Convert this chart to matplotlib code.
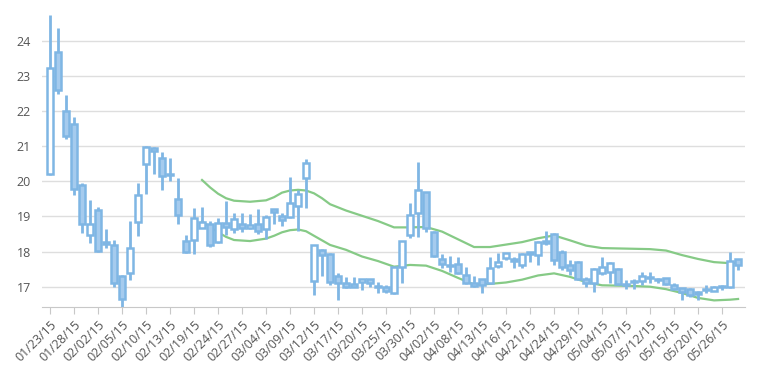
import matplotlib
matplotlib.use("Agg")
import matplotlib.pyplot as plt

# tick labels (every 3rd trading day)
tick_labels = ["01/23/15", "01/28/15", "02/02/15", "02/05/15", "02/10/15", "02/13/15",
               "02/19/15", "02/24/15", "02/27/15", "03/04/15", "03/09/15", "03/12/15",
               "03/17/15", "03/20/15", "03/25/15", "03/30/15", "04/02/15", "04/08/15",
               "04/13/15", "04/16/15", "04/21/15", "04/24/15", "04/29/15", "05/04/15",
               "05/07/15", "05/12/15", "05/15/15", "05/20/15", "05/26/15"]

opens = [20.2, 23.68, 22.0, 21.63, 19.9, 18.47, 19.18, 18.22, 18.2, 17.3,
         17.38, 18.84, 20.5, 20.95, 20.66, 20.2, 19.5, 18.3, 18.33, 18.68,
         18.79, 18.28, 18.82, 18.64, 18.78, 18.67, 18.78, 18.64, 19.2, 19.0,
         18.98, 19.31, 20.09, 17.17, 18.05, 17.93, 17.3, 17.1, 17.07, 17.12,
         17.21, 17.03, 16.98, 16.82, 17.57, 18.47, 19.1, 19.69, 18.57, 17.78,
         17.63, 17.65, 17.33, 17.1, 17.22, 17.1, 17.6, 17.81, 17.79, 17.62,
         17.92, 17.9, 18.24, 18.5, 17.98, 17.62, 17.7, 17.22, 17.1, 17.38,
         17.43, 17.5, 17.07, 17.12, 17.16, 17.27, 17.22, 17.24, 17.05, 16.95,
         16.93, 16.86, 16.92, 16.89, 16.99, 16.98, 17.78]
highs = [24.75, 24.38, 22.45, 21.83, 19.95, 19.47, 19.28, 18.65, 18.33, 17.32,
         18.87, 19.95, 21.0, 20.97, 20.83, 20.66, 20.09, 18.47, 19.23, 19.28,
         18.87, 18.97, 19.44, 19.11, 19.1, 19.07, 19.2, 19.03, 19.22, 19.1,
         20.13, 19.75, 20.63, 18.2, 18.07, 17.95, 17.38, 17.28, 17.28, 17.23,
         17.22, 17.14, 17.05, 17.56, 18.31, 19.38, 20.56, 19.71, 18.58, 17.92,
         17.87, 17.85, 17.55, 17.3, 17.23, 17.85, 17.97, 17.97, 17.85, 17.95,
         18.0, 18.3, 18.6, 18.52, 18.04, 17.76, 17.72, 17.28, 17.52, 17.84,
         17.7, 17.52, 17.18, 17.22, 17.43, 17.43, 17.26, 17.25, 17.1, 16.97,
         16.95, 16.88, 17.05, 17.02, 17.05, 18.0, 17.8]
lows = [20.18, 22.5, 21.2, 19.6, 18.52, 18.24, 18.0, 18.1, 17.0, 16.43,
        17.2, 18.45, 19.63, 20.2, 19.75, 20.0, 18.8, 17.95, 17.92, 18.66,
        18.12, 18.25, 18.47, 18.52, 18.57, 18.63, 18.5, 18.35, 18.8, 18.72,
        18.97, 18.6, 19.23, 16.76, 17.3, 17.05, 16.62, 16.95, 16.98, 16.9,
        17.0, 16.81, 16.82, 16.8, 17.1, 18.4, 18.41, 18.57, 17.84, 17.52,
        17.43, 17.35, 17.07, 17.0, 16.82, 17.08, 17.52, 17.76, 17.52, 17.52,
        17.7, 17.62, 18.2, 17.62, 17.47, 17.33, 17.2, 16.98, 16.86, 17.33,
        17.1, 17.05, 16.93, 16.93, 17.05, 17.1, 17.1, 17.05, 16.93, 16.62,
        16.7, 16.62, 16.81, 16.88, 16.9, 16.96, 17.48]
closes = [23.23, 22.6, 21.3, 19.78, 18.8, 18.8, 18.02, 18.26, 17.1, 16.65,
          18.1, 19.6, 20.99, 20.87, 20.15, 20.17, 19.05, 18.0, 18.97, 18.83,
          18.2, 18.82, 18.69, 18.93, 18.67, 18.76, 18.6, 18.99, 19.13, 18.9,
          19.39, 19.64, 20.53, 18.19, 17.9, 17.12, 17.11, 17.0, 17.0, 17.21,
          17.1, 17.0, 16.89, 17.55, 18.3, 19.04, 19.75, 18.66, 17.87, 17.65,
          17.6, 17.38, 17.1, 17.03, 17.05, 17.53, 17.7, 17.95, 17.72, 17.93,
          17.98, 18.28, 18.3, 17.75, 17.57, 17.48, 17.22, 17.1, 17.5, 17.57,
          17.68, 17.07, 17.04, 17.15, 17.3, 17.25, 17.2, 17.07, 16.94, 16.86,
          16.76, 16.79, 16.94, 17.0, 17.01, 17.74, 17.63]

# bollinger bands
band_idx = [19, 20, 21, 22, 23, 25, 27, 28, 29, 30, 31, 32, 33, 34, 35, 37, 39, 41, 43,
            45, 47, 49, 51, 53, 55, 57, 59, 61, 63, 65, 67, 69, 71, 73, 75, 77, 79, 81,
            83, 85, 86]
upper = [20.04, 19.83, 19.65, 19.52, 19.45, 19.42, 19.46, 19.55, 19.68, 19.74, 19.76,
         19.74, 19.66, 19.52, 19.35, 19.17, 19.02, 18.87, 18.69, 18.69, 18.7, 18.57,
         18.35, 18.13, 18.13, 18.2, 18.27, 18.38, 18.46, 18.32, 18.17, 18.1, 18.09,
         18.08, 18.07, 18.03, 17.9, 17.79, 17.7, 17.67, 17.68]
lower = [18.86, 18.7, 18.55, 18.42, 18.33, 18.3, 18.37, 18.45, 18.55, 18.61, 18.63,
         18.58, 18.45, 18.32, 18.19, 18.05, 17.86, 17.73, 17.57, 17.62, 17.6, 17.45,
         17.25, 17.06, 17.08, 17.12, 17.2, 17.32, 17.38, 17.28, 17.13, 17.04, 17.03,
         17.02, 17.0, 16.93, 16.82, 16.68, 16.61, 16.63, 16.65]

blue = "#7fb6e4"
fill = "#a5cbee"
green = "#86ca86"

plt.rcParams['font.family'] = ['Open Sans', 'DejaVu Sans']
fig = plt.figure(figsize=(7.57, 3.76), dpi=100)
ax = fig.add_axes([0.0555, 0.1843, 0.929, 0.7907])

n = len(opens)
xs = list(range(n))
body_lo = [min(o, c) for o, c in zip(opens, closes)]
body_hi = [max(o, c) for o, c in zip(opens, closes)]

ax.vlines(xs, lows, body_lo, color=blue, lw=2, zorder=3)
ax.vlines(xs, body_hi, highs, color=blue, lw=2, zorder=3)
heights = [max(h - l, 0.01) for h, l in zip(body_hi, body_lo)]
faces = ["white" if c >= o else fill for o, c in zip(opens, closes)]
ax.bar(xs, heights, bottom=body_lo, width=0.72, color=faces, edgecolor=blue,
       linewidth=1.8, zorder=4)

ax.plot(band_idx, upper, color=green, lw=1.6, zorder=2, solid_joinstyle="round")
ax.plot(band_idx, lower, color=green, lw=1.6, zorder=2, solid_joinstyle="round")

ax.set_xlim(-1, 86.9)
ax.set_ylim(16.43, 24.9)
ax.set_yticks(range(17, 25))
ax.yaxis.grid(True, color="#dedede", lw=1)
ax.set_axisbelow(True)
ax.set_xticks(range(0, n, 3))
ax.set_xticklabels(tick_labels, rotation=45, ha="right", rotation_mode="anchor")
ax.tick_params(axis="x", length=5, color="#c8c8c8", labelsize=9, labelcolor="#555555", pad=3)
ax.tick_params(axis="y", length=0, labelsize=9, labelcolor="#555555", pad=8)
for s in ["top", "right", "left"]:
    ax.spines[s].set_visible(False)
ax.spines["bottom"].set_color("#c8c8c8")

plt.savefig("out.png", dpi=100)
